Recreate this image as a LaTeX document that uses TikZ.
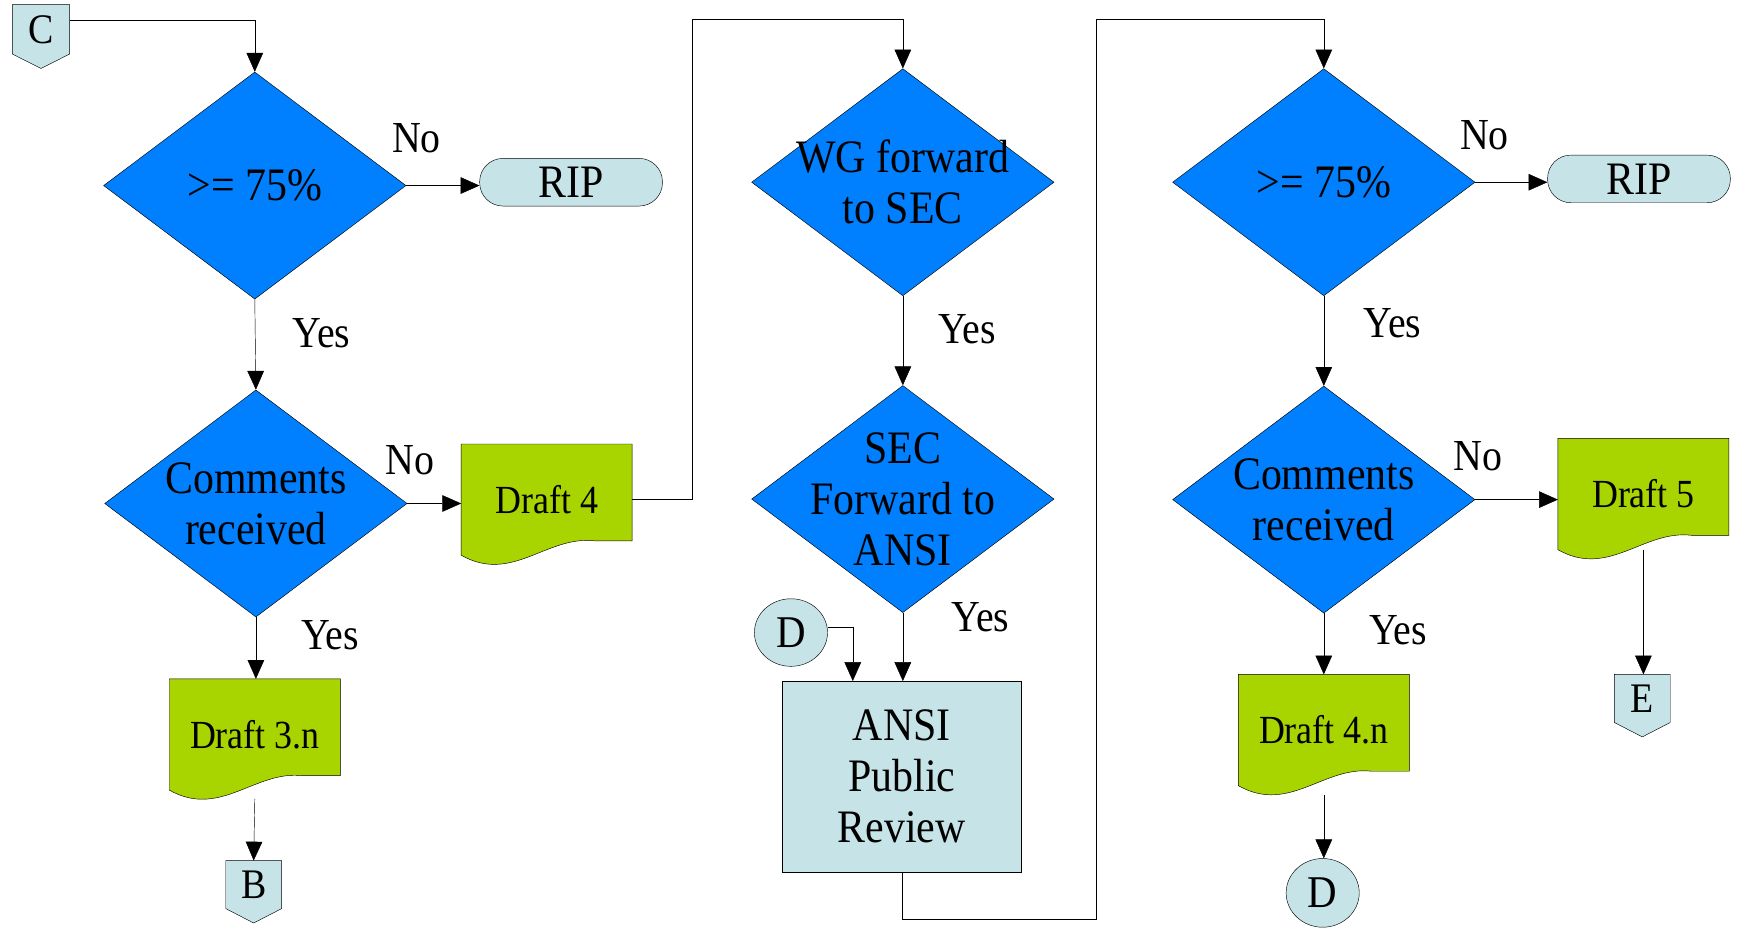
\documentclass[tikz,border=0pt]{standalone}
\usepackage{fontspec}
\setmainfont[FakeStretch=0.9]{Liberation Serif}
\usetikzlibrary{arrows.meta,shapes.geometric,calc}
\pgfdeclarelayer{bg}
\pgfsetlayers{bg,main}
\definecolor{dblue}{RGB}{0,128,255}
\definecolor{dgreen}{RGB}{168,212,0}
\definecolor{lblue}{RGB}{198,228,232}
\newcommand\fs[1]{\fontsize{#1}{46}\selectfont}
\newcommand\docdraw[1]{\begin{pgfonlayer}{bg}\draw[fill=dgreen] (#1.south west) -- (#1.north west) -- (#1.north east) -- ($(#1.south east)+(0,-13)$) -- ($(#1.south east)+(-34,-13)$) .. controls ($(#1.south west)+(77,-18)$) and ($(#1.south west)+(46,26)$) .. (#1.south west) -- cycle;\end{pgfonlayer}}
\newcommand\offdraw[1]{\begin{pgfonlayer}{bg}\draw[fill=lblue] (#1.north west) -- (#1.north east) -- (#1.south east) -- ($(#1.south)+(0,13)$) -- (#1.south west) -- cycle;\end{pgfonlayer}}
\begin{document}
\begin{tikzpicture}[x=1pt,y=-1pt,line width=1.6pt,
  dia/.style={diamond,draw,fill=dblue,minimum width=273pt,minimum height=205pt,inner sep=0pt},
  dtext/.style={font=\fs{42},align=center,inner sep=0pt},
  docn/.style={minimum width=154pt,minimum height=100pt,inner sep=0pt,font=\fs{36}},
  offn/.style={minimum width=50pt,minimum height=43pt,inner sep=0pt,font=\fs{38}},
  term/.style={draw,fill=lblue,rounded corners=21pt,minimum width=165pt,minimum height=43pt,inner sep=0pt,font=\fs{42}},
  circn/.style={ellipse,draw,fill=lblue,minimum width=66pt,minimum height=61pt,inner sep=0pt,font=\fs{41}},
  boxn/.style={draw,fill=lblue,minimum width=216pt,minimum height=172pt,inner sep=0pt,font=\fs{42},align=center},
  lab/.style={font=\fs{40},inner sep=0pt},
  arr/.style={-{Triangle[length=17pt,width=15pt]}}]
\useasboundingbox (0,0) rectangle (1568,837);

% column 1
\node[offn] (C) at (37,26.5) {C};
\offdraw{C}
\node[dia,label={[dtext]center:{>= 75\%}}] (d1) at (230,167.5) {};
\node[term] (rip1) at (515.5,164.5) {RIP};
\node[dia,label={[dtext]center:Comments\\received}] (d2) at (231,454.5) {};
\node[docn] (dr4) at (493.5,451) {Draft 4};
\docdraw{dr4}
\node[docn] (dr3n) at (230,663) {Draft 3.n};
\docdraw{dr3n}
\node[offn] (B) at (229,798.5) {B};
\offdraw{B}

\node[lab] (no1) at (376,125) {No};
\node[lab] (yes1) at (290,301) {Yes};
\node[lab] (no2) at (370,415) {No};
\node[lab] (yes2) at (298,573) {Yes};

\draw[arr] ($(C.north east)+(0,14)$) -| (d1.north);
\draw[arr] (d1.east) -- (d1.east -| rip1.west);
\draw[arr] (d1.south) -- (d2.north);
\draw[arr] (d2.east) -- (d2.east -| dr4.west);
\draw[arr] (d2.south) -- (d2.south |- dr3n.north);
\draw[arr] ($(dr3n.south)+(0,8)$) -- (B.north);

% column 2
\coordinate (w1) at (625,17);
\node[dia,label={[dtext]center:WG forward\\to SEC}] (d3) at (815,164.5) {};
\node[dia,label={[dtext]center:SEC\\Forward to\\ANSI}] (d4) at (815,450.5) {};
\node[circn] (D1) at (714,571) {D};
\node[boxn] (ansi) at (814,701) {ANSI\\Public\\Review};
\node[lab] (yes3) at (873,297) {Yes};
\node[lab] (yes4) at (885,557) {Yes};

\draw[arr] (dr4.east) -| (w1) -| (d3.north);
\draw[arr] (d3.south) -- (d4.north);
\draw[arr] (d4.south) -- (d4.south |- ansi.north);
\draw[arr] ($(D1.east)+(0,-5)$) -| ($(ansi.north west)+(64,0)$);

% column 3
\coordinate (w2) at (990,830);
\coordinate (w3) at (990,17);
\node[dia,label={[dtext]center:{>= 75\%}}] (d5) at (1195,164.5) {};
\node[term] (rip2) at (1479.5,161.5) {RIP};
\node[dia,label={[dtext]center:Comments\\received}] (d6) at (1195,451) {};
\node[docn] (dr5) at (1483.5,446) {Draft 5};
\docdraw{dr5}
\node[docn] (dr4n) at (1195,659) {Draft 4.n};
\docdraw{dr4n}
\node[offn] (E) at (1482.5,630.5) {E};
\offdraw{E}
\node[circn,minimum height=62pt] (D2) at (1194,806) {D};

\node[lab] (no5) at (1340,122) {No};
\node[lab] (yes5) at (1257,292) {Yes};
\node[lab] (no6) at (1334,412) {No};
\node[lab] (yes6) at (1262,569) {Yes};

\draw[arr] (ansi.south) |- (w2) -- (w3) -| (d5.north);
\draw[arr] (d5.east) -- (d5.east -| rip2.west);
\draw[arr] (d5.south) -- (d6.north);
\draw[arr] (d6.east) -- (d6.east -| dr5.west);
\draw[arr] (d6.south) -- (d6.south |- dr4n.north);
\draw[arr] (dr5.south) -- (dr5.south |- E.north);
\draw[arr] ($(dr4n.south)+(0,8)$) -- (dr4n.south |- D2.north);
\end{tikzpicture}
\end{document}
